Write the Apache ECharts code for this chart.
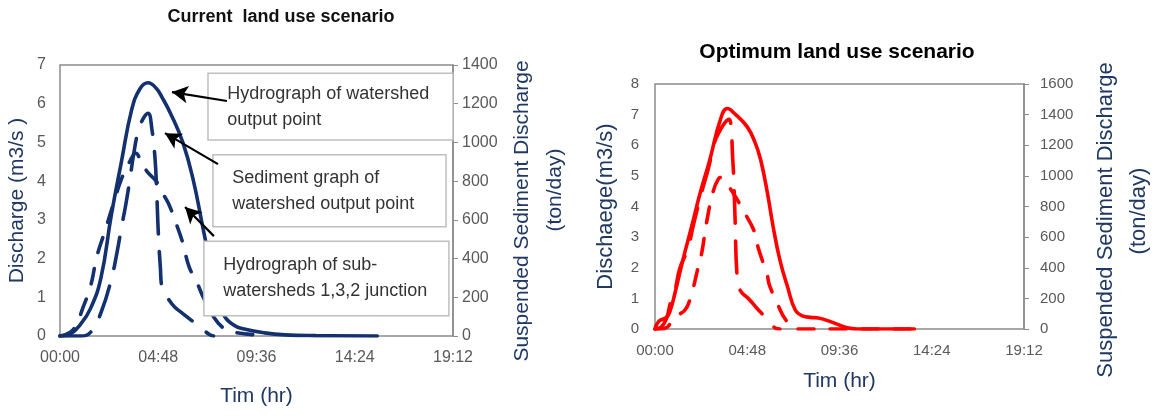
<!DOCTYPE html>
<html>
<head>
<meta charset="utf-8">
<script src="https://cdn.jsdelivr.net/npm/echarts@6/dist/echarts.min.js"></script>
<style>
  html, body { margin: 0; padding: 0; background: #fff; }
  #chart { width: 1159px; height: 416px; }
</style>
</head>
<body>
<div id="chart"></div>
<script>
// x ticks are hours, shown as hh:mm
const timeTicks = [0, 4.8, 9.6, 14.4, 19.2]

// current land use (left panel)
// hydrograph of watershed output point, m3/s
const curFlowT = [0, 0.5, 1.0, 1.5, 2.0, 2.5, 3.0, 3.5, 3.9, 4.3, 4.7, 5.0, 5.4, 6.0, 6.5, 7.0, 7.5, 8.0, 8.5, 9.0, 10.0, 11.0, 12.5, 15.5]
const curFlowQ = [0, 0.05, 0.3, 0.72, 1.5, 3.1, 4.5, 5.84, 6.38, 6.54, 6.4, 6.15, 5.75, 5.0, 4.05, 2.75, 1.5, 0.55, 0.28, 0.18, 0.08, 0.03, 0.01, 0]
// sediment graph of watershed output point, ton/day
const curSedT = [0, 1.0, 1.5, 2.0, 2.5, 2.8, 3.0, 3.2, 3.4, 3.6, 3.8, 4.05, 4.3, 4.5, 4.64, 4.72, 4.8, 4.9, 5.0, 5.3, 5.6, 6.0, 6.5, 7.0, 7.3, 7.5]
const curSedS = [0, 0, 20, 120, 290, 440, 560, 670, 800, 940, 1050, 1120, 1150, 1060, 920, 760, 540, 360, 240, 190, 150, 116, 74, 32, 8, 0]
// hydrograph of sub-watersheds 1,3,2 junction, m3/s
const curSubT = [0, 0.5, 0.8, 1.1, 1.5, 1.8, 2.2, 2.6, 3.0, 3.4, 3.7, 4.0, 4.3, 4.7, 5.0, 5.3, 5.7, 6.0, 6.3, 6.7, 7.0, 7.5, 8.0, 8.5, 9.0, 9.5, 10.0]
const curSubQ = [0, 0.1, 0.3, 0.7, 1.3, 2.05, 2.72, 3.4, 4.05, 4.5, 4.72, 4.45, 4.22, 4.0, 3.7, 3.42, 2.87, 2.4, 1.8, 1.37, 1.0, 0.5, 0.2, 0.1, 0.06, 0.03, 0]

// optimum land use (right panel)
const optFlowT = [0, 0.2, 0.6, 0.8, 1.05, 1.45, 1.9, 2.35, 2.85, 3.4, 3.76, 4.2, 4.8, 5.2, 5.5, 5.85, 6.15, 6.5, 6.9, 7.3, 7.7, 8.1, 8.5, 9.3, 10.0, 10.5, 13.5]
const optFlowQ = [0, 0.25, 0.38, 0.62, 1.2, 2.25, 3.33, 4.44, 5.52, 6.83, 7.2, 7.0, 6.6, 6.1, 5.52, 4.44, 3.33, 2.25, 1.37, 0.62, 0.42, 0.38, 0.36, 0.2, 0.04, 0, 0]
const optSedT = [0, 0.3, 0.6, 0.8, 1.05, 1.3, 1.7, 2.0, 2.4, 2.8, 3.1, 3.4, 3.65, 3.85, 4.05, 4.15, 4.3, 4.5, 4.85, 5.3, 5.8, 6.3, 6.5]
const optSedS = [0, 10, 70, 170, 260, 400, 520, 680, 880, 1060, 1220, 1300, 1350, 1370, 1100, 780, 300, 240, 200, 136, 70, 4, 0]
const optSubT = [0, 0.5, 1.04, 1.56, 1.88, 2.2, 2.45, 2.66, 3.03, 3.3, 3.45, 3.7, 3.9, 4.3, 4.6, 5.16, 5.37, 5.84, 5.95, 6.4, 6.8, 7.3, 13.5]
const optSubQ = [0, 0.02, 0.4, 0.62, 1.1, 1.9, 2.55, 3.4, 4.5, 4.9, 4.95, 4.75, 4.6, 4.2, 3.86, 3.2, 2.65, 1.76, 1.44, 0.78, 0.3, 0, 0]

const navy = '#13306f'
const red = '#ff0000'
const titleBlue = '#1f3864'
const tickGrey = '#595959'
const sans = '"Liberation Sans", Arial, sans-serif'

const pairs = (xs, ys) => xs.map((x, i) => [x, ys[i]])
const pad = n => (n < 10 ? '0' : '') + n
const hm = v => {
  const t = Math.round(v * 60)
  return pad(Math.floor(t / 60)) + ':' + pad(t % 60)
}
const plain = v => String(v)

const chart = echarts.init(document.getElementById('chart'))

function xAxisFor (grid, gap, size) {
  return {
    type: 'value',
    gridIndex: grid,
    min: timeTicks[0],
    max: timeTicks[timeTicks.length - 1],
    interval: 4.8,
    axisLine: { show: false },
    axisTick: { show: false },
    splitLine: { show: false },
    axisLabel: { formatter: hm, color: tickGrey, fontFamily: sans, fontSize: size, margin: 14 },
    name: 'Tim (hr)',
    nameLocation: 'middle',
    nameGap: gap,
    nameTextStyle: { color: titleBlue, fontFamily: sans, fontSize: 21 }
  }
}

function lineSeries (name, xi, yi, data, color, dash) {
  return {
    name,
    type: 'line',
    xAxisIndex: xi,
    yAxisIndex: yi,
    data,
    smooth: 0.45,
    showSymbol: false,
    symbol: 'none',
    lineStyle: { color, width: 3.6, type: dash || 'solid', cap: 'round' },
    emphasis: { disabled: true }
  }
}

const longDash = [32, 18]
const midDash = [16, 16]

const option = {
  animation: false,
  backgroundColor: '#fff',
  title: [
    {
      text: 'Current  land use scenario',
      left: 281,
      top: 8,
      textAlign: 'center',
      padding: 0,
      textStyle: { fontFamily: sans, fontWeight: 'bold', fontSize: 18, color: '#111' }
    },
    {
      text: 'Optimum land use scenario',
      left: 837,
      top: 42,
      textAlign: 'center',
      padding: 0,
      textStyle: { fontFamily: sans, fontWeight: 'bold', fontSize: 21, color: '#000' }
    }
  ],
  grid: [
    { left: 60, top: 65, width: 393, height: 271, show: true, borderColor: '#8c8c8c', borderWidth: 1.5, backgroundColor: '#fff' },
    { left: 655, top: 84, width: 369, height: 245, show: true, borderColor: '#8c8c8c', borderWidth: 1.5, backgroundColor: '#fff' }
  ],
  xAxis: [xAxisFor(0, 50, 16), xAxisFor(1, 42, 15)],
  yAxis: [
    {
      type: 'value', gridIndex: 0, position: 'left', min: 0, max: 7, interval: 1,
      axisLine: { show: false }, axisTick: { show: false }, splitLine: { show: false },
      axisLabel: { color: tickGrey, fontFamily: sans, fontSize: 16, margin: 14 },
      name: 'Discharge (m3/s )', nameLocation: 'middle', nameGap: 32,
      nameTextStyle: { color: titleBlue, fontFamily: sans, fontSize: 21 }
    },
    {
      type: 'value', gridIndex: 0, position: 'right', min: 0, max: 1400, interval: 200,
      axisLine: { show: true, lineStyle: { color: '#8c8c8c', width: 1.5 } },
      axisTick: { show: true, length: 5, lineStyle: { color: '#8c8c8c' } },
      splitLine: { show: false },
      axisLabel: { formatter: plain, color: tickGrey, fontFamily: sans, fontSize: 16, margin: 9 }
    },
    {
      type: 'value', gridIndex: 1, position: 'left', min: 0, max: 8, interval: 1,
      axisLine: { show: false }, axisTick: { show: false }, splitLine: { show: false },
      axisLabel: { color: tickGrey, fontFamily: sans, fontSize: 15, margin: 16 },
      name: 'Dischaege(m3/s)', nameLocation: 'middle', nameGap: 38,
      nameTextStyle: { color: titleBlue, fontFamily: sans, fontSize: 22 }
    },
    {
      type: 'value', gridIndex: 1, position: 'right', min: 0, max: 1600, interval: 200,
      axisLine: { show: true, lineStyle: { color: '#8c8c8c', width: 1.5 } },
      axisTick: { show: true, length: 5, lineStyle: { color: '#8c8c8c' } },
      splitLine: { show: false },
      axisLabel: { formatter: plain, color: tickGrey, fontFamily: sans, fontSize: 15, margin: 16 }
    }
  ],
  graphic: [
    { type: 'text', x: 522, y: 211, rotation: Math.PI / 2, style: { text: 'Suspended Sediment Discharge', fill: titleBlue, font: '21px ' + sans, align: 'center', verticalAlign: 'middle' } },
    { type: 'text', x: 555, y: 190, rotation: Math.PI / 2, style: { text: '(ton/day)', fill: titleBlue, font: '21px ' + sans, align: 'center', verticalAlign: 'middle' } },
    { type: 'text', x: 1106, y: 220, rotation: Math.PI / 2, style: { text: 'Suspended Sediment Discharge', fill: titleBlue, font: '22px ' + sans, align: 'center', verticalAlign: 'middle' } },
    { type: 'text', x: 1139, y: 211, rotation: Math.PI / 2, style: { text: '(ton/day)', fill: titleBlue, font: '22px ' + sans, align: 'center', verticalAlign: 'middle' } }
  ],
  series: [
    Object.assign(lineSeries('Hydrograph of watershed output point', 0, 0, pairs(curFlowT, curFlowQ), navy), {
      // annotation boxes sit on top of the curves, arrows on top of the boxes
      markArea: {
        z: 10,
        silent: true,
        itemStyle: { color: '#fff', borderColor: '#bfbfbf', borderWidth: 1.5 },
        label: { show: true, position: 'insideLeft', distance: 20, color: '#333', fontFamily: sans, fontSize: 18, lineHeight: 26 },
        data: [
          [{ name: 'Hydrograph of watershed\noutput point', coord: [7.23, 6.79] }, { coord: [19.2, 5.06] }],
          [{ name: 'Sediment graph of\nwatershed output point', coord: [7.47, 4.68] }, { coord: [18.86, 2.82] }],
          [{ name: 'Hydrograph of sub-\nwatersheds 1,3,2 junction', coord: [7.03, 2.45] }, { coord: [19.0, 0.52] }]
        ]
      },
      markLine: {
        z: 12,
        silent: true,
        symbol: ['none', 'arrow'],
        symbolSize: [13, 16],
        lineStyle: { color: '#000', width: 2.2, type: 'solid' },
        label: { show: false },
        emphasis: { disabled: true },
        data: [
          [{ coord: [8.16, 6.07] }, { coord: [5.47, 6.30] }],
          [{ coord: [7.72, 4.44] }, { coord: [5.13, 5.24] }],
          [{ coord: [7.52, 2.58] }, { coord: [6.11, 3.33] }]
        ]
      }
    }),
    lineSeries('Sediment graph of watershed output point', 0, 1, pairs(curSedT, curSedS), navy, longDash),
    lineSeries('Hydrograph of sub-watersheds 1,3,2 junction', 0, 0, pairs(curSubT, curSubQ), navy, midDash),
    lineSeries('Optimum hydrograph', 1, 2, pairs(optFlowT, optFlowQ), red),
    lineSeries('Optimum sediment graph', 1, 3, pairs(optSedT, optSedS), red, longDash),
    lineSeries('Optimum sub-watershed hydrograph', 1, 2, pairs(optSubT, optSubQ), red, midDash)
  ]
}

chart.setOption(option)
</script>
</body>
</html>
